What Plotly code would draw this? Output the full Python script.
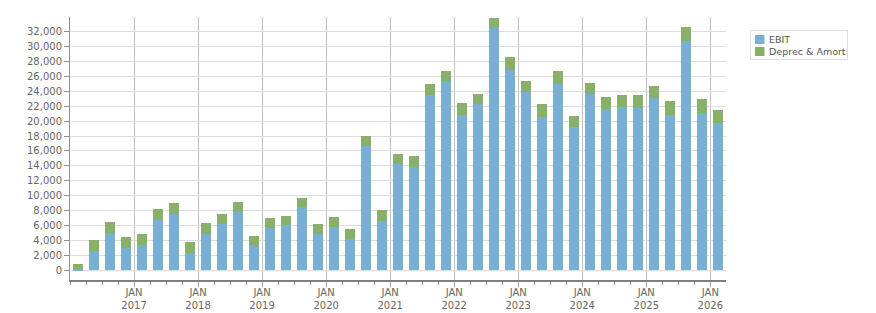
import plotly.graph_objects as go

quarters = [f"{y}Q{q}" for y in range(2016, 2027) for q in range(1, 5)][:41]
ebit = [100, 2550, 4970, 3000, 3360, 6760, 7560, 2280, 4880, 6220, 7830, 3270,
        5680, 6040, 8460, 4830, 5730, 4160, 16690, 6580, 14270, 13830, 23490, 25370,
        20800, 22330, 32530, 26890, 23940, 20540, 25010, 19190, 23670, 21610, 21880, 21790,
        23130, 20800, 30740, 21070, 19730]
totals = [800, 4030, 6440, 4430, 4830, 8190, 8990, 3760, 6310, 7520, 9130, 4560,
          6980, 7250, 9660, 6170, 7110, 5500, 17990, 8050, 15570, 15350, 24970, 26710,
          22420, 23620, 33820, 28590, 25370, 22280, 26710, 20670, 25100, 23220, 23490, 23490,
          24700, 22680, 32620, 22950, 21480]
deprec = [t - e for t, e in zip(totals, ebit)]
series_names = ["EBIT", "Deprec & Amort"]
series_colors = ["#78b0d3", "#88b068"]
year_ticks = list(range(2017, 2027))
tick_labels = [f"JAN<br>{y}" for y in year_ticks]
y_ticks = list(range(0, 32001, 2000))

xpos = [int(q[:4]) + (int(q[-1]) - 1) * 0.25 + 0.125 for q in quarters]

W, H = 876, 313
L, R, T, B = 70, 150, 17, 33
PW, PH = W - L - R, H - T - B


def px_x(px):
    return (px - L) / PW


def px_y(py):
    return (H - B - py) / PH


font = dict(family="DejaVu Sans, Verdana, sans-serif", size=10, color="#666666")

fig = go.Figure()
for name, vals, col in zip(series_names, [ebit, deprec], series_colors):
    fig.add_bar(x=xpos, y=vals, name=name, marker=dict(color=col, line_width=0), width=0.156)

# custom legend box (compact, like the reference)
shapes = [dict(type="rect", xref="paper", yref="paper",
               x0=px_x(750.5), x1=px_x(847.5), y0=px_y(59.5), y1=px_y(30.5),
               line=dict(color="#dddddd", width=1), fillcolor="white", layer="above")]
annotations = []
for i, (name, col) in enumerate(zip(series_names, series_colors)):
    cy = 39.5 + 12 * i
    shapes.append(dict(type="rect", xref="paper", yref="paper",
                       x0=px_x(755), x1=px_x(764.5), y0=px_y(cy + 4.5), y1=px_y(cy - 4.5),
                       line=dict(width=0), fillcolor=col, layer="above"))
    annotations.append(dict(xref="paper", yref="paper", x=px_x(767), y=px_y(cy),
                            xanchor="left", yanchor="middle", showarrow=False, text=name,
                            font=dict(family="DejaVu Sans, Verdana, sans-serif", size=9.5, color="#555555")))

fig.update_layout(
    barmode="stack",
    width=W, height=H,
    margin=dict(l=L, r=R, t=T, b=B, autoexpand=False),
    paper_bgcolor="white", plot_bgcolor="white",
    font=font,
    showlegend=False,
    shapes=shapes,
    annotations=annotations,
    bargap=0,
)
fig.update_xaxes(
    range=[2016.0, 2026.245],
    tickmode="array", tickvals=year_ticks, ticktext=tick_labels,
    showgrid=True, gridcolor="#c0c0c0", gridwidth=1,
    showline=True, linecolor="#808080", linewidth=2,
    ticks="outside", ticklen=5, tickcolor="#a0a0a0",
    ticklabelstandoff=-3,
    minor=dict(tick0=2016, dtick=0.25, ticks="outside", ticklen=3, tickcolor="#909090", showgrid=False),
    zeroline=False, automargin=False,
    tickfont=font,
)
fig.update_yaxes(
    range=[-1340, 34000],
    tickmode="array", tickvals=y_ticks, tickformat=",d",
    showgrid=True, gridcolor="#dddddd", gridwidth=1,
    showline=True, linecolor="#909090", linewidth=1,
    ticks="outside", ticklen=5, tickcolor="#909090",
    zeroline=False, automargin=False,
    tickfont=font,
)
fig.write_html("out.html")
